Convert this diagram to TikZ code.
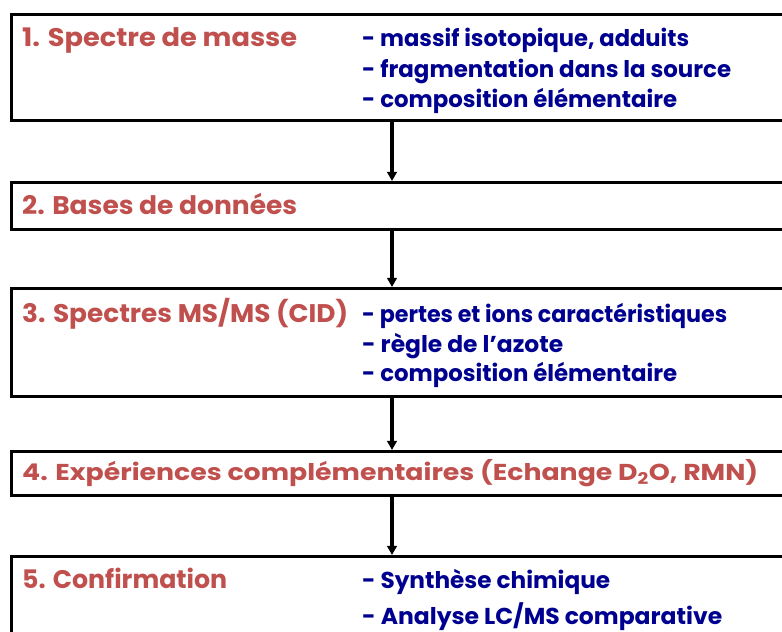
\documentclass[tikz,border=0pt]{standalone}
\usepackage{fontspec}
\setmainfont{Poppins}
\usepackage{graphicx}
\usetikzlibrary{arrows.meta}
\definecolor{tred}{HTML}{C0504D}
\definecolor{tblue}{HTML}{000090}
\newcommand{\fitw}[2]{\resizebox{#1}{\height}{#2}}
\begin{document}
\begin{tikzpicture}[x=1pt,y=1pt,
  stepbox/.style={draw=black, line width=3.4pt, fill=white, inner sep=0pt, anchor=north west, minimum width=790pt},
  arr/.style={line width=4.2pt, -{Triangle[length=9pt,width=9.5pt]}},
  title/.style={anchor=base west, inner sep=0pt, text=tred, font=\bfseries\fontsize{25.5}{30}\selectfont},
  titlesm/.style={anchor=base west, inner sep=0pt, text=tred, font=\bfseries\fontsize{23}{27}\selectfont},
  item/.style={anchor=base west, inner sep=0pt, text=tblue, font=\bfseries\fontsize{23}{27}\selectfont}]
\path[use as bounding box] (0,0) rectangle (782,632);
\clip (0,0) rectangle (782,632);
\fill[white] (0,0) rectangle (782,632);
\coordinate (ax) at (392,0);
% boxes
\node[stepbox, minimum height=106pt] (b1) at (10,619) {};
\node[stepbox, minimum height=47pt] (b2) at (10,451) {};
\node[stepbox, minimum height=108pt] (b3) at (10,345) {};
\node[stepbox, minimum height=44pt] (b4) at (10,182) {};
\node[stepbox, minimum height=100pt] (b5) at (10,77) {};
% arrows
\draw[arr] (b1.south -| ax) -- (b2.north -| ax);
\draw[arr] (b2.south -| ax) -- (b3.north -| ax);
\draw[arr] (b3.south -| ax) -- (b4.north -| ax);
\draw[arr] (b4.south -| ax) -- (b5.north -| ax);
% box 1
\node[title] (t1) at (22,585) {\fitw{275pt}{1. Spectre de masse}};
\node[item] (i11) at (362,585) {\fitw{327pt}{- massif isotopique, adduits}};
\node[item] (i12) at (362,554) {\fitw{369pt}{- fragmentation dans la source}};
\node[item] (i13) at (362,524) {\fitw{315pt}{- composition élémentaire}};
% box 2
\node[title] (t2) at (22,417) {\fitw{275pt}{2. Bases de données}};
% box 3
\node[title] (t3) at (22,309) {\fitw{326pt}{3. Spectres MS/MS (CID)}};
\node[item] (i31) at (362,309) {\fitw{365pt}{- pertes et ions caractéristiques}};
\node[item] (i32) at (362,279) {\fitw{201pt}{- règle de l’azote}};
\node[item] (i33) at (362,250) {\fitw{315pt}{- composition élémentaire}};
% box 4
\node[titlesm] (t4) at (22,151) {\fitw{736pt}{4. Expériences complémentaires (Echange D\textsubscript{2}O, RMN)}};
% box 5
\node[title] (t5) at (22,43) {\fitw{205pt}{5. Confirmation}};
\node[item] (i51) at (362,43) {\fitw{248pt}{- Synthèse chimique}};
\node[item] (i52) at (362,8) {\fitw{360pt}{- Analyse LC/MS comparative}};
\end{tikzpicture}
\end{document}
